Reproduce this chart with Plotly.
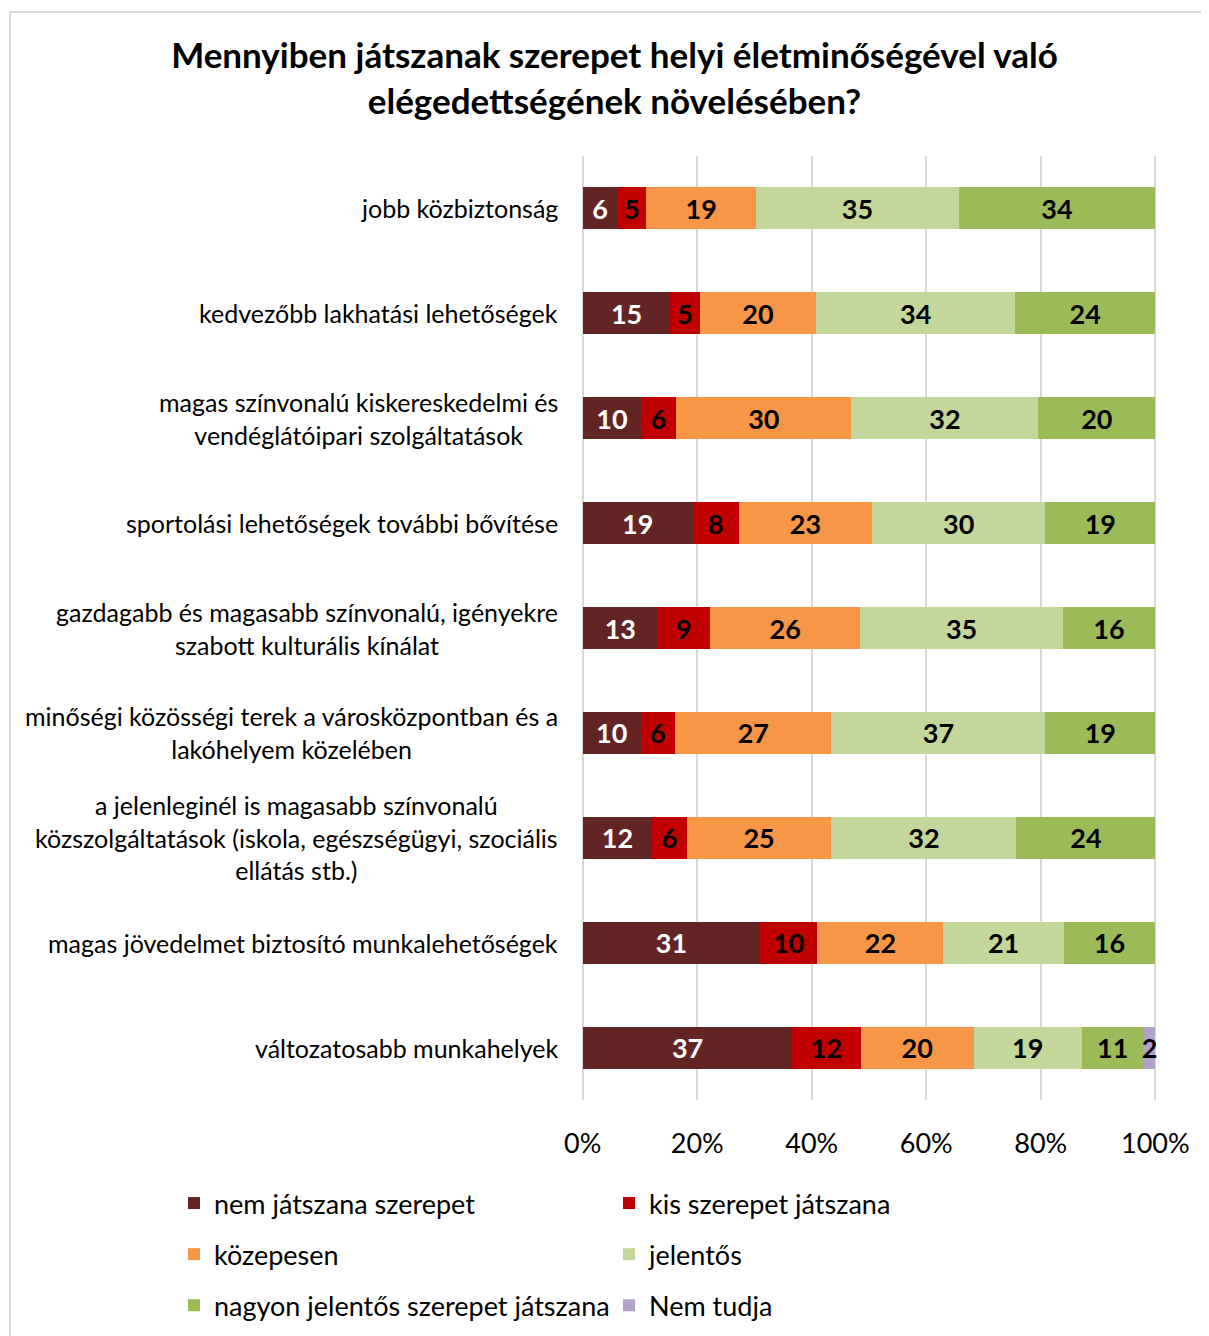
import plotly.graph_objects as go

categories = [
    "jobb közbiztonság",
    "kedvezőbb lakhatási lehetőségek",
    "magas színvonalú kiskereskedelmi és<br>vendéglátóipari szolgáltatások",
    "sportolási lehetőségek további bővítése",
    "gazdagabb és magasabb színvonalú, igényekre<br>szabott kulturális kínálat",
    "minőségi közösségi terek a városközpontban és a<br>lakóhelyem közelében",
    "a jelenleginél is magasabb színvonalú<br>közszolgáltatások (iskola, egészségügyi, szociális<br>ellátás stb.)",
    "magas jövedelmet biztosító munkalehetőségek",
    "változatosabb munkahelyek",
]

series_names = [
    "nem játszana szerepet",
    "kis szerepet játszana",
    "közepesen",
    "jelentős",
    "nagyon jelentős szerepet játszana",
    "Nem tudja",
]

nem_jatszana = [6, 15, 10, 19, 13, 10, 12, 31, 37]
kis_szerepet = [5, 5, 6, 8, 9, 6, 6, 10, 12]
kozepesen = [19, 20, 30, 23, 26, 27, 25, 22, 20]
jelentos = [35, 34, 32, 30, 35, 37, 32, 21, 19]
nagyon_jelentos = [34, 24, 20, 19, 16, 19, 24, 16, 11]
nem_tudja = [0, 0, 0, 0, 0, 0, 0, 0, 2]

tick_vals = [0, 20, 40, 60, 80, 100]
tick_labels = ["0%", "20%", "40%", "60%", "80%", "100%"]

values = [nem_jatszana, kis_szerepet, kozepesen, jelentos, nagyon_jelentos, nem_tudja]
colors = ["#632523", "#C00000", "#F79646", "#C4D79B", "#9BBB59", "#B3A2C7"]
text_colors = ["white", "black", "black", "black", "black", "black"]
legend_ids = ["legend", "legend2", "legend", "legend2", "legend", "legend2"]

FONT = "Lato"
W, H = 1201, 1328
L, R, T, B = 573, 52, 148, 236
PW = W - L - R
PH = H - T - B

fig = go.Figure()
for i, (name, vals) in enumerate(zip(series_names, values)):
    fig.add_trace(go.Bar(
        y=list(range(len(categories))),
        x=vals,
        name=name,
        orientation="h",
        marker=dict(color=colors[i], line=dict(width=0)),
        text=[str(v) if v else "" for v in vals],
        textposition="inside",
        insidetextanchor="middle",
        constraintext="none",
        textangle=0,
        insidetextfont=dict(family=FONT, size=27, color=text_colors[i], weight="bold"),
        legend=legend_ids[i],
        legendgroup="g%d" % i,
        hoverinfo="skip",
    ))

for j, cat in enumerate(categories):
    fig.add_annotation(
        x=0, xref="paper", y=j, yref="y",
        text=cat, showarrow=False,
        xanchor="right", yanchor="middle", align="center",
        xshift=-21,
        font=dict(family=FONT, size=25, color="#000000"),
    )

legend_font = dict(family=FONT, size=27, color="#000000")
legend_top = 1171

fig.update_layout(
    width=W, height=H,
    barmode="stack", barnorm="percent", bargap=0.6,
    paper_bgcolor="white", plot_bgcolor="white",
    margin=dict(l=L, r=R, t=T, b=B, autoexpand=False),
    title=dict(
        text="Mennyiben játszanak szerepet helyi életminőségével való<br>elégedettségének növelésében?",
        x=0.505, xref="container", xanchor="center",
        y=1 - 60 / H, yref="container", yanchor="middle",
        font=dict(family=FONT, size=35, color="#000000", weight="bold"),
    ),
    xaxis=dict(
        range=[-0.3, 100.3], tickvals=tick_vals, ticktext=tick_labels,
        showgrid=True, gridcolor="#D9D9D9", gridwidth=2,
        zeroline=False, showline=False, ticks="",
        tickfont=dict(family=FONT, size=27, color="#000000"),
        ticklabelstandoff=25,
        fixedrange=True,
    ),
    yaxis=dict(
        range=[len(categories) - 0.5, -0.5],
        showticklabels=False, showgrid=False, zeroline=False, ticks="",
        fixedrange=True,
    ),
    legend=dict(
        orientation="v", x=(206 - 40 - L) / PW, xanchor="left",
        y=-(legend_top - (T + PH)) / PH, yanchor="top",
        font=legend_font,
        tracegroupgap=13, traceorder="grouped", bgcolor="rgba(0,0,0,0)",
    ),
    legend2=dict(
        orientation="v", x=(641 - 40 - L) / PW, xanchor="left",
        y=-(legend_top - (T + PH)) / PH, yanchor="top",
        font=legend_font,
        tracegroupgap=13, traceorder="grouped", bgcolor="rgba(0,0,0,0)",
    ),
    showlegend=True,
)

fig.add_shape(
    type="rect", xref="paper", yref="paper",
    x0=(2 - L) / PW, x1=(1230 - L) / PW,
    y0=-(1360 - (T + PH)) / PH, y1=1 + (T - 4) / PH,
    line=dict(color="#D9D9D9", width=2), fillcolor="rgba(0,0,0,0)", layer="below",
)

fig.write_html("out.html")
